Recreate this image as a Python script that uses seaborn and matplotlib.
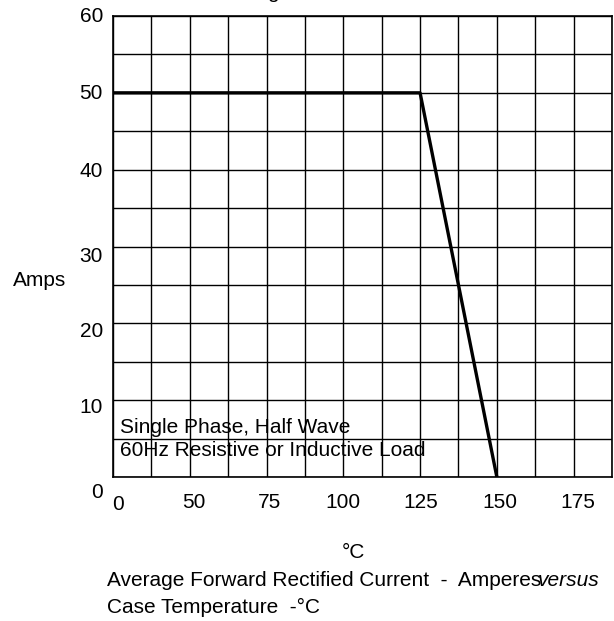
import matplotlib
matplotlib.use('Agg')
import matplotlib.pyplot as plt
from matplotlib.transforms import offset_copy
import seaborn as sns

# corners of the derating curve (case temp degC, amps)
TEMP = [25, 125, 150]
AMPS = [50, 50, 0]

# tick labels as printed on the sheet (left edge says "0" but sits at 25)
X_TICKS = [25, 50, 75, 100, 125, 150, 175]
X_LABELS = ['0', '50', '75', '100', '125', '150', '175']
Y_TICKS = [60, 50, 40, 30, 20, 10, 0]
Y_LABELS = ['60', '50', '40', '30', '20', '10', '0']

NOTE_1 = 'Single Phase, Half Wave'
NOTE_2 = '60Hz Resistive or Inductive Load'

# small pixel nudges so labels sit like the original
X_NUDGE = [(5, -3), (4, 0), (3, 0), (0, 0), (1, 0), (3, 0), (4, 0)]
Y_NUDGE = [0, -1, -2, -10, -8, -7, -15]

W, H = 614, 621
FS = 15

sns.set_style('white')
plt.rcParams['font.family'] = ['Liberation Sans', 'DejaVu Sans']
plt.rcParams['text.color'] = 'black'

fig = plt.figure(figsize=(W / 100, H / 100), dpi=100)
ax = fig.add_axes([113 / W, 1 - 477 / H, (612 - 113) / W, (477 - 16) / H])

sns.lineplot(x=TEMP, y=AMPS, ax=ax, color='black', linewidth=2.4, zorder=3)

ax.set_xlim(25, 187.5)
ax.set_ylim(0, 60)

# grid every 12.5 degC and 5 A
ax.set_xticks([25 + 12.5 * k for k in range(14)])
ax.set_yticks([5 * k for k in range(13)])
ax.tick_params(length=0, labelbottom=False, labelleft=False)
ax.grid(True, color='black', linewidth=1.0)
for s in ax.spines.values():
    s.set_color('black')
    s.set_linewidth(1.2)

# x tick labels
xtrans = ax.get_xaxis_transform()
for v, lab, (dx, dy) in zip(X_TICKS, X_LABELS, X_NUDGE):
    tr = offset_copy(xtrans, fig=fig, x=dx, y=dy - 25, units='dots')
    ax.text(v, 0, lab, transform=tr, ha='center', va='center', fontsize=FS)

# y tick labels
ytrans = ax.get_yaxis_transform()
for v, lab, dy in zip(Y_TICKS, Y_LABELS, Y_NUDGE):
    tr = offset_copy(ytrans, fig=fig, x=-10, y=dy, units='dots')
    ax.text(0, v, lab, transform=tr, ha='right', va='center', fontsize=FS)

# notes inside the plot
ax.text(27.3, 6.5, NOTE_1, ha='left', va='center', fontsize=FS)
ax.text(27.3, 3.4, NOTE_2, ha='left', va='center', fontsize=FS)

# axis titles and caption
fig.text(40 / W, 1 - 280 / H, 'Amps', ha='center', va='center', fontsize=FS)
fig.text(353 / W, 1 - 552 / H, '\u00b0C', ha='center', va='center', fontsize=FS)
t1 = fig.text(107 / W, 1 - 581 / H, 'Average Forward Rectified Current  -  Amperes',
              ha='left', va='center', fontsize=FS)
fig.text(107 / W, 1 - 607 / H, 'Case Temperature  -\u00b0C',
         ha='left', va='center', fontsize=FS)
ax.annotate('versus', xy=(1, 0), xycoords=t1, xytext=(-3, 0), textcoords='offset pixels',
            ha='left', va='bottom', fontsize=FS, style='italic', annotation_clip=False)

# leftover descender of a title cut off at the top of the scan
fig.text(273 / W, 1 + 2 / H, 'g', ha='center', va='baseline', fontsize=FS)

fig.savefig('out.png', dpi=100, facecolor='white')
